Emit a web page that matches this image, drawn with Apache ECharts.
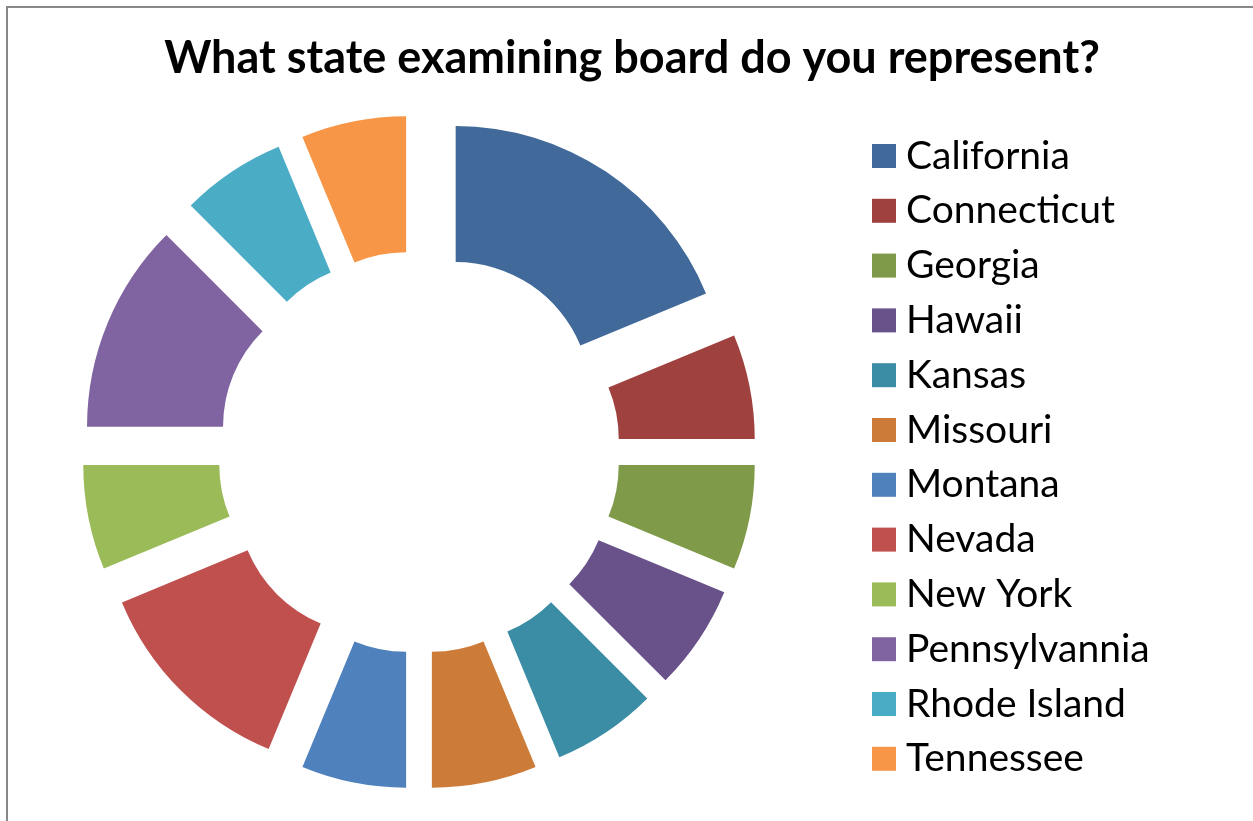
<!DOCTYPE html>
<html>
<head>
<meta charset="utf-8">
<script src="https://cdn.jsdelivr.net/npm/echarts@6/dist/echarts.min.js"></script>
<style>
  html, body { margin: 0; padding: 0; background: #fff; }
  #chart { width: 1253px; height: 821px; }
</style>
</head>
<body>
<div id="chart"></div>
<script>
// 数据
const states = ['California', 'Connecticut', 'Georgia', 'Hawaii', 'Kansas', 'Missouri',
  'Montana', 'Nevada', 'New York', 'Pennsylvannia', 'Rhode Island', 'Tennessee']
const counts = [3, 1, 1, 1, 1, 1, 1, 2, 1, 2, 1, 1]
const colors = ['#416A9B', '#9F413E', '#7F9A48', '#69518A', '#3B8DA5', '#CC7B38',
  '#4F81BD', '#C0504D', '#9BBB59', '#8064A2', '#4BACC6', '#F79646']

let myChart = echarts.init(document.getElementById('chart'))

let pieData = states.map((name, index) => ({
  name: name,
  value: counts[index],
  selected: true, // 分离的扇区
  itemStyle: { color: colors[index] }
}))

var option = {
  animation: false,
  title: {
    text: 'What state examining board do you represent?',
    left: 632,
    top: 36,
    padding: 0,
    textAlign: 'center',
    textStyle: {
      fontFamily: 'Lato',
      fontWeight: 'bold',
      fontSize: 45,
      color: '#000'
    }
  },
  legend: {
    orient: 'vertical',
    left: 872,
    top: 136,
    padding: 0,
    icon: 'rect',
    itemWidth: 24,
    itemHeight: 24,
    itemGap: 14.8,
    selectedMode: false,
    data: states,
    textStyle: {
      fontFamily: 'Lato',
      fontSize: 39,
      lineHeight: 40,
      color: '#000',
      padding: [0, 0, 0, 5]
    }
  },
  graphic: [{
    type: 'rect',
    shape: { x: 7, y: 7, width: 1300, height: 900 },
    style: { fill: 'none', stroke: '#888', lineWidth: 2 },
    silent: true
  }],
  series: [{
    type: 'pie',
    center: [419, 452],
    radius: [135, 271],
    startAngle: 90,
    clockwise: true,
    selectedMode: 'multiple',
    selectedOffset: 66,
    label: { show: false },
    labelLine: { show: false },
    emphasis: { disabled: true },
    select: { itemStyle: { borderWidth: 0 } },
    itemStyle: { borderWidth: 0 },
    data: pieData
  }]
}

myChart.setOption(option)
</script>
</body>
</html>
